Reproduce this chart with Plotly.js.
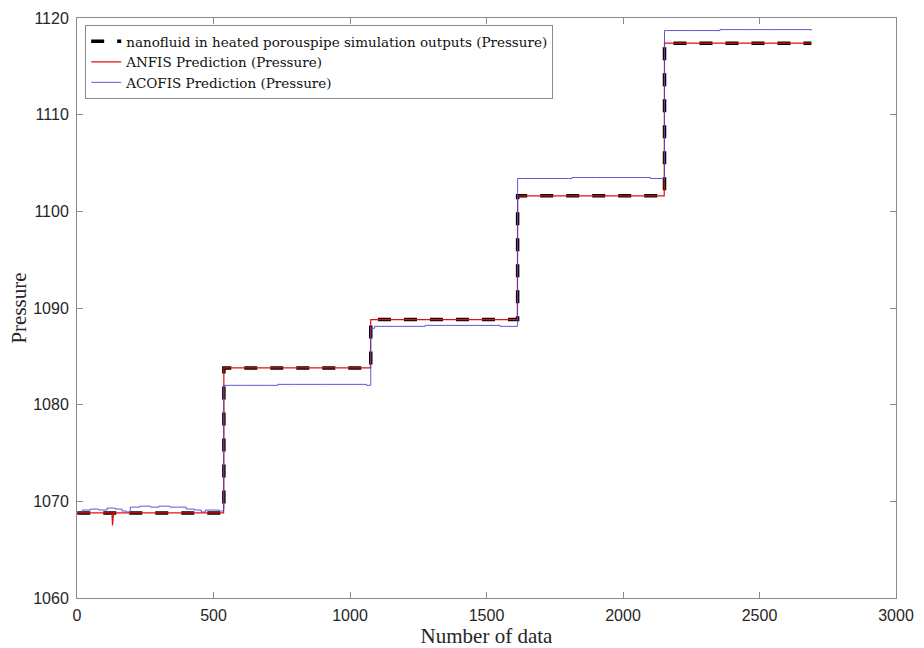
<!DOCTYPE html>
<html>
<head>
<meta charset="utf-8">
<script src="https://cdn.plot.ly/plotly-3.0.1.min.js"></script>
<style>html,body{margin:0;padding:0;background:#fff;}#chart{width:924px;height:648px;}</style>
</head>
<body>
<div id="chart"></div>
<script>
// Simulation outputs (step levels)
const simX = [1, 538, 1076, 1614, 2152, 2690];
const simY = [1068.8, 1083.8, 1088.8, 1101.6, 1117.4, 1117.4];

// ANFIS prediction
const anfisX = [1, 128, 130, 132, 134, 537, 538, 1075, 1076, 1613, 1614, 2151, 2152, 2690];
const anfisY = [1068.8, 1068.8, 1067.5, 1068.8, 1068.8, 1068.8, 1083.8, 1083.8, 1088.8, 1088.8, 1101.6, 1101.6, 1117.4, 1117.4];

// ACOFIS prediction
const acofisX = [1, 20, 50, 80, 110, 140, 165, 180, 195, 230, 270, 300, 340, 370, 400, 430, 455, 470, 500, 520, 537,
  538, 600, 700, 736, 800, 900, 1000, 1060, 1075,
  1076, 1090, 1150, 1250, 1275, 1350, 1450, 1550, 1600, 1613,
  1614, 1700, 1800, 1813, 1900, 2000, 2100, 2151,
  2152, 2250, 2355, 2450, 2550, 2690];
const acofisY = [1068.9, 1069.1, 1069.2, 1069.1, 1069.3, 1069.2, 1069.0, 1068.9, 1069.4, 1069.5, 1069.4, 1069.5, 1069.4, 1069.4, 1069.2, 1069.1, 1068.9, 1069.1, 1069.1, 1069.0, 1069.2,
  1082.0, 1082.0, 1082.0, 1082.1, 1082.1, 1082.1, 1082.1, 1082.0, 1082.0,
  1087.9, 1088.1, 1088.1, 1088.1, 1088.2, 1088.2, 1088.2, 1088.1, 1088.1, 1088.1,
  1103.4, 1103.4, 1103.4, 1103.5, 1103.5, 1103.5, 1103.4, 1103.4,
  1118.7, 1118.7, 1118.8, 1118.8, 1118.8, 1118.7];

const xTicks = [0, 500, 1000, 1500, 2000, 2500, 3000];
const yTicks = [1060, 1070, 1080, 1090, 1100, 1110, 1120];

const serif = "Liberation Serif, DejaVu Serif, serif";
const legendSerif = "DejaVu Serif, Liberation Serif, serif";
const sans = "Liberation Sans, Arial, sans-serif";

const traces = [
  {x: simX, y: simY, mode: 'lines', line: {shape: 'hv', color: '#000', width: 3.5, dash: '13px,13px'},
   name: 'nanofluid in heated porouspipe simulation outputs (Pressure)'},
  {x: anfisX, y: anfisY, mode: 'lines', line: {color: '#e01010', width: 1.2},
   name: 'ANFIS Prediction (Pressure)'},
  {x: acofisX, y: acofisY, mode: 'lines', line: {shape: 'hv', color: '#4848d0', width: 0.9},
   name: 'ACOFIS Prediction (Pressure)'}
];

const axisCommon = {
  showgrid: false, zeroline: false, showline: true, linecolor: '#8a8a8a', linewidth: 1,
  mirror: 'allticks', ticks: 'inside', ticklen: 6, tickcolor: '#8a8a8a',
  tickfont: {family: sans, size: 16, color: '#262626'}, automargin: false
};

const layout = {
  width: 924, height: 648,
  margin: {l: 77, r: 28, t: 18, b: 50},
  paper_bgcolor: '#fff', plot_bgcolor: '#fff',
  showlegend: true,
  legend: {x: 0.01, y: 0.988, xanchor: 'left', yanchor: 'top',
    bgcolor: '#fff', bordercolor: '#8a8a8a', borderwidth: 1,
    font: {family: legendSerif, size: 13.5, color: '#111'}, tracegroupgap: 0},
  xaxis: Object.assign({}, axisCommon, {range: [0, 3000], tickvals: xTicks, ticktext: xTicks.map(String),
    ticklabelstandoff: 3,
    title: {text: 'Number of data', font: {family: serif, size: 21, color: '#262626'}, standoff: 2}}),
  yaxis: Object.assign({}, axisCommon, {range: [1060, 1120], tickvals: yTicks, ticktext: yTicks.map(String),
    ticklabelstandoff: 4,
    title: {text: 'Pressure', font: {family: serif, size: 21, color: '#262626'}, standoff: 0}})
};

Plotly.newPlot('chart', traces, layout, {displayModeBar: false, staticPlot: true});
</script>
</body>
</html>
